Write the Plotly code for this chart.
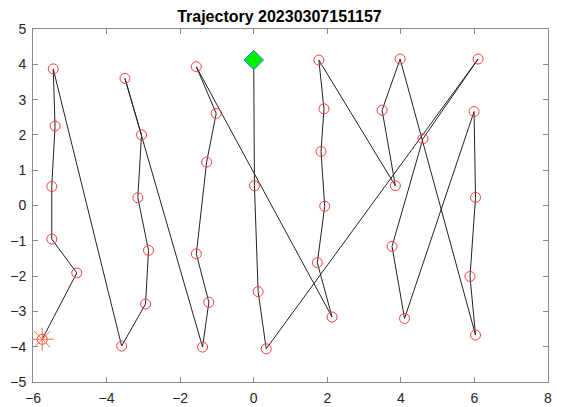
import plotly.graph_objects as go

# Trajectory points in visiting order (start at diamond, end at star)
traj_x = [0.00, 0.02, 0.12, 0.34, 6.10, 4.60, 3.76, 4.10, 5.99, 6.03, 5.88, 6.03,
          3.98, 3.49, 3.85, 1.77, 1.91, 1.83, 1.93, 1.73, 2.13,
          -1.56, -1.02, -1.28, -1.56, -1.22, -1.39,
          -3.50, -3.05, -3.15, -2.86, -2.94, -3.59,
          -5.45, -5.40, -5.49, -5.49, -4.81, -5.75]
traj_y = [4.12, 0.56, -2.44, -4.06, 4.15, 1.89, -1.16, -3.20, 2.66, 0.23, -2.01, -3.67,
          4.15, 2.70, 0.56, 4.12, 2.74, 1.53, -0.02, -1.62, -3.16,
          3.93, 2.61, 1.23, -1.37, -2.74, -4.01,
          3.60, 2.00, 0.22, -1.27, -2.79, -3.98,
          3.87, 2.25, 0.54, -0.95, -1.91, -3.79]

title_text = "Trajectory 20230307151157"
x_ticks = [-6, -4, -2, 0, 2, 4, 6, 8]
y_ticks = [-5, -4, -3, -2, -1, 0, 1, 2, 3, 4, 5]

fig = go.Figure()

# path line
fig.add_trace(go.Scatter(x=traj_x, y=traj_y, mode="lines",
                         line=dict(color="#222222", width=1), hoverinfo="skip"))
# waypoint circles (all except start)
fig.add_trace(go.Scatter(x=traj_x[1:], y=traj_y[1:], mode="markers",
                         marker=dict(symbol="circle-open", size=10,
                                     color="#ff3b3b", line=dict(width=1))))
# start marker
fig.add_trace(go.Scatter(x=traj_x[:1], y=traj_y[:1], mode="markers",
                         marker=dict(symbol="diamond", size=15, color="#00ee00",
                                     line=dict(color="#3377ff", width=1))))
# end marker
fig.add_trace(go.Scatter(x=traj_x[-1:], y=traj_y[-1:], mode="markers",
                         marker=dict(symbol="asterisk-open", size=19,
                                     color="#ff7040", line=dict(width=1, color="#ff7040"))))

axis_common = dict(showgrid=False, zeroline=False, showline=True, mirror="ticks",
                   linecolor="#8a8a8a", linewidth=1, ticks="inside", ticklen=5,
                   tickcolor="#8a8a8a", tickwidth=1, automargin=False,
                   ticklabelstandoff=3,
                   tickfont=dict(family="Liberation Sans, Arial", size=14, color="#262626"))

# the page body adds an 8px offset, so the figure is sized to fit the window
fig.update_layout(
    width=554, height=399,
    margin=dict(l=25, r=14, t=21, b=25),
    paper_bgcolor="white", plot_bgcolor="white",
    showlegend=False,
    title=dict(text="<b>" + title_text + "</b>", x=0.49, xanchor="center",
               y=0.993, yanchor="top", automargin=False,
               pad=dict(t=0, b=0, l=0, r=0),
               font=dict(family="Liberation Sans, Arial", size=16, color="#000000")),
    xaxis=dict(range=[-6, 8], tickvals=x_ticks, **axis_common),
    yaxis=dict(range=[-5, 5], tickvals=y_ticks, **axis_common),
)

fig.write_html("out.html")
